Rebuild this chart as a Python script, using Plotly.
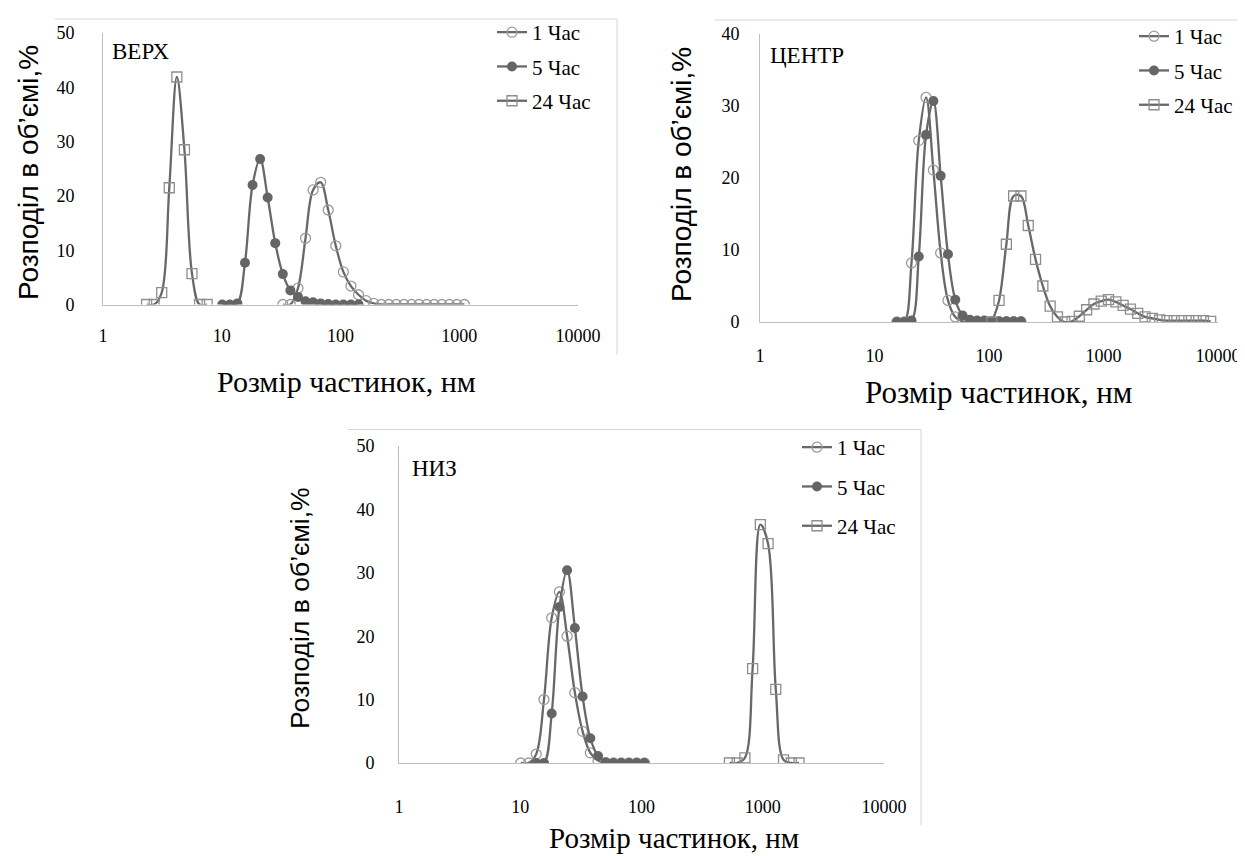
import plotly.graph_objects as go

W, H = 1245, 856

# ---------------- data ----------------
tick_vals = [1, 10, 100, 1000, 10000]
tick_text = ["1", "10", "100", "1000", "10000"]
series_names = ["1 Час", "5 Час", "24 Час"]

# ВЕРХ
top_x_1h = [32.67, 37.84, 43.82, 50.75, 58.77, 68.06, 78.82, 91.28, 105.7, 122.4, 141.8, 164.2, 190.1,
            220.2, 255, 295.3, 342, 396.1, 458.7, 531.2, 615.1, 712.4, 825, 955.4, 1106]
top_y_1h = [0, 0, 3.0, 12.2, 21.1, 22.5, 17.4, 10.8, 6.0, 3.4, 1.8, 0.7, 0.2,
            0, 0, 0, 0, 0, 0, 0, 0, 0, 0, 0, 0]
top_x_5h = [10.1, 11.7, 13.54, 15.69, 18.17, 21.04, 24.36, 28.21, 32.67, 37.84, 43.82, 50.75, 58.77,
            68.06, 78.82, 91.28, 105.7, 122.4, 141.8]
top_y_5h = [0, 0, 0.2, 7.7, 22.0, 26.8, 19.7, 11.3, 5.6, 2.6, 1.4, 0.6, 0.4,
            0.2, 0.1, 0, 0, 0, 0]
top_x_24h = [2.328, 2.696, 3.122, 3.615, 4.187, 4.849, 5.615, 6.503, 7.531]
top_y_24h = [0, 0, 2.2, 21.5, 41.9, 28.5, 5.7, 0, 0]

# ЦЕНТР
mid_x_1h = [15.69, 18.17, 21.04, 24.36, 28.21, 32.67, 37.84, 43.82, 50.75, 58.77, 68.06, 78.82,
            91.28, 105.7, 122.4, 141.8, 164.2, 190.1]
mid_y_1h = [0, 0, 8.2, 25.2, 31.2, 21.1, 9.6, 3.0, 0.7, 0.1, 0, 0, 0, 0, 0, 0, 0, 0]
mid_x_5h = [15.69, 18.17, 21.04, 24.36, 28.21, 32.67, 37.84, 43.82, 50.75, 58.77, 68.06, 78.82,
            91.28, 105.7, 122.4, 141.8, 164.2, 190.1]
mid_y_5h = [0, 0, 0.2, 9.1, 26.0, 30.7, 20.3, 9.4, 3.1, 0.9, 0.3, 0.2, 0.2, 0.1, 0.1, 0.1, 0.1, 0.1]
mid_x_24h = [105.7, 122.4, 141.8, 164.2, 190.1, 220.2, 255, 295.3, 342, 396.1, 458.7, 531.2, 615.1,
             712.4, 825, 955.4, 1106, 1281, 1484, 1718, 1990, 2305, 2669, 3091, 3580, 4145, 4801,
             5560, 6439, 7456, 8635]
mid_y_24h = [0, 3.0, 10.8, 17.5, 17.5, 13.4, 8.7, 5.0, 2.2, 0.7, 0, 0.1, 0.8,
             1.7, 2.5, 2.9, 3.1, 2.8, 2.3, 1.8, 1.2, 0.7, 0.5, 0.3, 0.2, 0.2, 0.2,
             0.2, 0.2, 0.2, 0.1]

# НИЗ
bot_x_1h = [10.1, 11.7, 13.54, 15.69, 18.17, 21.04, 24.36, 28.21, 32.67, 37.84, 43.82, 50.75,
            58.77, 68.06, 78.82, 91.28, 105.7]
bot_y_1h = [0, 0, 1.4, 10.0, 22.9, 27.0, 20.0, 11.1, 5.0, 1.6, 0.4, 0, 0, 0, 0, 0, 0]
bot_x_5h = [13.54, 15.69, 18.17, 21.04, 24.36, 28.21, 32.67, 37.84, 43.82, 50.75, 58.77, 68.06,
            78.82, 91.28, 105.7]
bot_y_5h = [0, 0, 7.8, 24.6, 30.4, 21.3, 10.5, 3.9, 1.1, 0.1, 0, 0, 0, 0, 0]
bot_x_24h = [531.2, 615.1, 712.4, 825, 955.4, 1106, 1281, 1484, 1718, 1990]
bot_y_24h = [0, 0, 0.8, 14.9, 37.6, 34.6, 11.6, 0.5, 0, 0]

panel_labels = ["ВЕРХ", "ЦЕНТР", "НИЗ"]
x_title = "Розмір частинок, нм"
y_title = "Розподіл в об’ємі,%"

SERIF = "Times New Roman, Liberation Serif, serif"
SANS = "Liberation Sans"


def px(x):
    return x / W


def py(y):
    return 1 - y / H


LINE_COL = "#686868"
styles = [
    dict(symbol="circle-open", size=10, color="#9b9b9b", line=dict(width=1.3, color="#9b9b9b")),
    dict(symbol="circle", size=10, color="#656565", line=dict(width=0)),
    dict(symbol="square-open", size=10, color="#8e8e8e", line=dict(width=1.3, color="#8e8e8e")),
]

panels = [
    dict(xs=[top_x_1h, top_x_5h, top_x_24h], ys=[top_y_1h, top_y_5h, top_y_24h],
         xdom=(95, 570), ydom=(25, 296.5), yr=50, xa="x", ya="y", legend="legend",
         xtl=15, ytl=24),
    dict(xs=[mid_x_1h, mid_x_5h, mid_x_24h], ys=[mid_y_1h, mid_y_5h, mid_y_24h],
         xdom=(752, 1210), ydom=(26, 314), yr=40, xa="x2", ya="y2", legend="legend2",
         xtl=17, ytl=16),
    dict(xs=[bot_x_1h, bot_x_5h, bot_x_24h], ys=[bot_y_1h, bot_y_5h, bot_y_24h],
         xdom=(391, 876), ydom=(438, 755), yr=50, xa="x3", ya="y3", legend="legend3",
         xtl=27, ytl=20),
]

fig = go.Figure()
layout = dict(width=W, height=H, margin=dict(l=0, r=0, t=0, b=0),
              paper_bgcolor="white", plot_bgcolor="white", showlegend=True,
              font=dict(family=SERIF, color="#000"))

tick_font = dict(family=SERIF, size=18, color="#000")

for pi, p in enumerate(panels):
    for si in range(3):
        fig.add_trace(go.Scatter(
            x=p["xs"][si], y=p["ys"][si], mode="lines+markers", name=series_names[si],
            line=dict(color=LINE_COL, width=2.3, shape="spline", smoothing=1.0),
            marker=styles[si], xaxis=p["xa"], yaxis=p["ya"], legend=p["legend"],
            legendgroup=f"p{pi}s{si}", hoverinfo="x+y"))
    sfx = "" if pi == 0 else str(pi + 1)
    layout["xaxis" + sfx] = dict(
        domain=[px(p["xdom"][0]), px(p["xdom"][1])], type="log", range=[0, 4],
        tickvals=tick_vals, ticktext=tick_text, showline=True, linecolor="#bfbfbf", linewidth=1,
        showgrid=False, zeroline=False, ticks="outside", ticklen=p["xtl"],
        tickcolor="rgba(0,0,0,0)", tickfont=tick_font, anchor=p["ya"], automargin=False,
        fixedrange=True)
    layout["yaxis" + sfx] = dict(
        domain=[py(p["ydom"][1]), py(p["ydom"][0])], range=[0, p["yr"]],
        tickvals=list(range(0, p["yr"] + 1, 10)), showline=True, linecolor="#bfbfbf", linewidth=1,
        showgrid=False, zeroline=False, ticks="outside", ticklen=p["ytl"],
        tickcolor="rgba(0,0,0,0)", tickfont=tick_font, anchor=p["xa"], automargin=False,
        fixedrange=True)

leg_font = dict(family=SERIF, size=21, color="#000")
for name, (lx, ly, gap) in {"legend": (484, 4, 4), "legend2": (1126, 8, 4),
                            "legend3": (789, 419, 9)}.items():
    layout[name] = dict(x=px(lx), y=py(ly), xanchor="left", yanchor="top", xref="paper",
                        yref="paper", bgcolor="rgba(0,0,0,0)", font=leg_font,
                        tracegroupgap=gap, itemwidth=30)

annotations = []
# panel labels
for (lx, ly), txt in zip([(102, 44), (760, 47), (402, 461)], panel_labels):
    annotations.append(dict(x=px(lx), y=py(ly), xref="paper", yref="paper", text=txt,
                            showarrow=False, xanchor="left", yanchor="middle",
                            font=dict(family=SERIF, size=23, color="#000")))
# x titles
for (cx, cy, fs) in [(338, 373, 30), (990, 384, 31), (666, 830, 29)]:
    annotations.append(dict(x=px(cx), y=py(cy), xref="paper", yref="paper", text=x_title,
                            showarrow=False, xanchor="center", yanchor="middle",
                            font=dict(family=SERIF, size=fs, color="#000")))
# y titles
for (cx, cy, fs) in [(20, 165, 28), (674, 167, 28), (292, 600, 26.5)]:
    annotations.append(dict(x=px(cx), y=py(cy), xref="paper", yref="paper", text=y_title,
                            showarrow=False, xanchor="center", yanchor="middle", textangle=-90,
                            font=dict(family=SANS, size=fs, color="#000")))
layout["annotations"] = annotations

border = "#d6d6d6"
shapes = []
for (x0, y0, x1, y1) in [(47, 11, 609, 11), (609, 11, 609, 347), (707, 12, 1245, 12),
                         (340, 421.5, 913, 421.5), (913, 421.5, 913, 817)]:
    shapes.append(dict(type="line", xref="paper", yref="paper", x0=px(x0), y0=py(y0),
                       x1=px(x1), y1=py(y1), line=dict(color=border, width=1)))
layout["shapes"] = shapes

fig.update_layout(**layout)
fig.write_html("out.html")
